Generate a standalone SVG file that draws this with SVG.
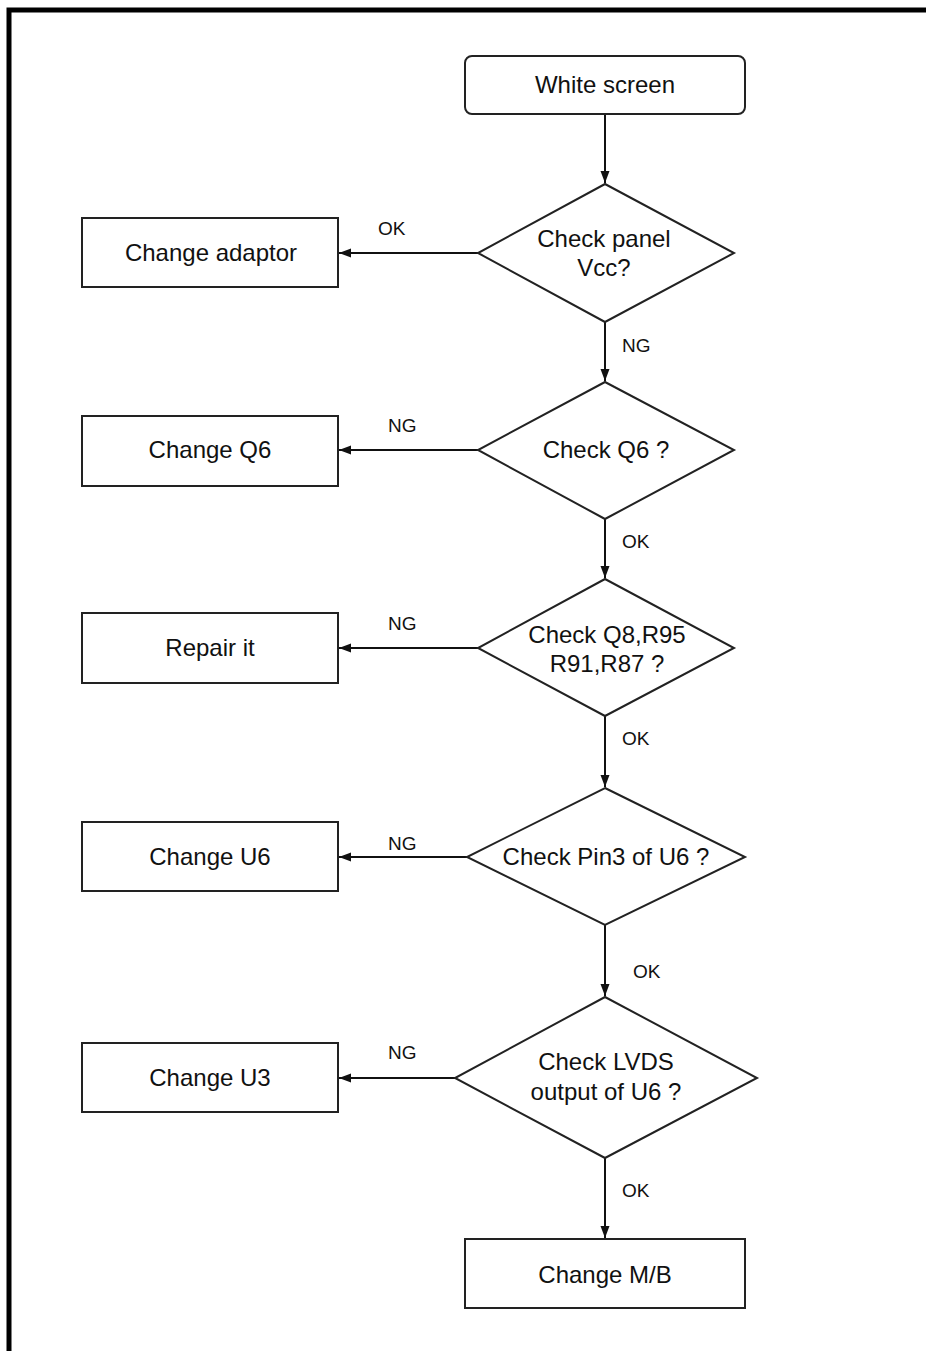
<svg xmlns="http://www.w3.org/2000/svg" width="926" height="1351" viewBox="0 0 926 1351">
<style>
.box{fill:#fff;stroke:#222;stroke-width:2}
.t{font-family:"Liberation Sans",Arial,sans-serif;font-size:24px;fill:#111;text-anchor:middle}
.l{font-family:"Liberation Sans",Arial,sans-serif;font-size:19px;fill:#111}
.c{fill:none;stroke:#111;stroke-width:2}
</style>
<defs>
<marker id="a" viewBox="0 0 12 10" refX="12" refY="5" markerWidth="12" markerHeight="10" markerUnits="userSpaceOnUse" orient="auto">
<path d="M0,0.5 L12,5 L0,9.5 Z" fill="#111"/>
</marker>
</defs>
<rect x="0" y="0" width="926" height="1351" fill="#fff"/>
<path d="M9,1351 V10 H926" fill="none" stroke="#000" stroke-width="5"/>
<g id="connectors">
<line class="c" x1="605" y1="114" x2="605" y2="183" marker-end="url(#a)"/>
<line class="c" x1="478" y1="253" x2="339" y2="253" marker-end="url(#a)"/>
<line class="c" x1="605" y1="322" x2="605" y2="381" marker-end="url(#a)"/>
<line class="c" x1="478" y1="450" x2="339" y2="450" marker-end="url(#a)"/>
<line class="c" x1="605" y1="519" x2="605" y2="578" marker-end="url(#a)"/>
<line class="c" x1="478" y1="648" x2="339" y2="648" marker-end="url(#a)"/>
<line class="c" x1="605" y1="716" x2="605" y2="787" marker-end="url(#a)"/>
<line class="c" x1="467" y1="857" x2="339" y2="857" marker-end="url(#a)"/>
<line class="c" x1="605" y1="925" x2="605" y2="996" marker-end="url(#a)"/>
<line class="c" x1="455" y1="1078" x2="339" y2="1078" marker-end="url(#a)"/>
<line class="c" x1="605" y1="1158" x2="605" y2="1238" marker-end="url(#a)"/>
<text class="l" x="378" y="235">OK</text>
<text class="l" x="622" y="352">NG</text>
<text class="l" x="388" y="432">NG</text>
<text class="l" x="622" y="548">OK</text>
<text class="l" x="388" y="630">NG</text>
<text class="l" x="622" y="745">OK</text>
<text class="l" x="388" y="850">NG</text>
<text class="l" x="633" y="978">OK</text>
<text class="l" x="388" y="1059">NG</text>
<text class="l" x="622" y="1197">OK</text>
</g>
<g id="white-screen"><rect class="box" x="465" y="56" width="280" height="58" rx="7"/><text class="t" x="605" y="93">White screen</text></g>
<g id="check-vcc"><polygon class="box" points="605,184 734,253 605,322 478,253"/><text class="t" x="604" y="247">Check panel</text><text class="t" x="604" y="276">Vcc?</text></g>
<g id="change-adaptor"><rect class="box" x="82" y="218" width="256" height="69"/><text class="t" x="211" y="261">Change adaptor</text></g>
<g id="check-q6"><polygon class="box" points="605,382 734,450 605,519 478,450"/><text class="t" x="606" y="458">Check Q6 ?</text></g>
<g id="change-q6"><rect class="box" x="82" y="416" width="256" height="70"/><text class="t" x="210" y="458">Change Q6</text></g>
<g id="check-q8"><polygon class="box" points="605,579 734,648 605,716 478,648"/><text class="t" x="607" y="643">Check Q8,R95</text><text class="t" x="607" y="672">R91,R87 ?</text></g>
<g id="repair-it"><rect class="box" x="82" y="613" width="256" height="70"/><text class="t" x="210" y="656">Repair it</text></g>
<g id="check-pin3"><polygon class="box" points="605,788 745,857 605,925 467,857"/><text class="t" x="606" y="865">Check Pin3 of U6 ?</text></g>
<g id="change-u6"><rect class="box" x="82" y="822" width="256" height="69"/><text class="t" x="210" y="865">Change U6</text></g>
<g id="check-lvds"><polygon class="box" points="605,997 757,1078 605,1158 455,1078"/><text class="t" x="606" y="1070">Check LVDS</text><text class="t" x="606" y="1100">output of U6 ?</text></g>
<g id="change-u3"><rect class="box" x="82" y="1043" width="256" height="69"/><text class="t" x="210" y="1086">Change U3</text></g>
<g id="change-mb"><rect class="box" x="465" y="1239" width="280" height="69"/><text class="t" x="605" y="1283">Change M/B</text></g>
</svg>
